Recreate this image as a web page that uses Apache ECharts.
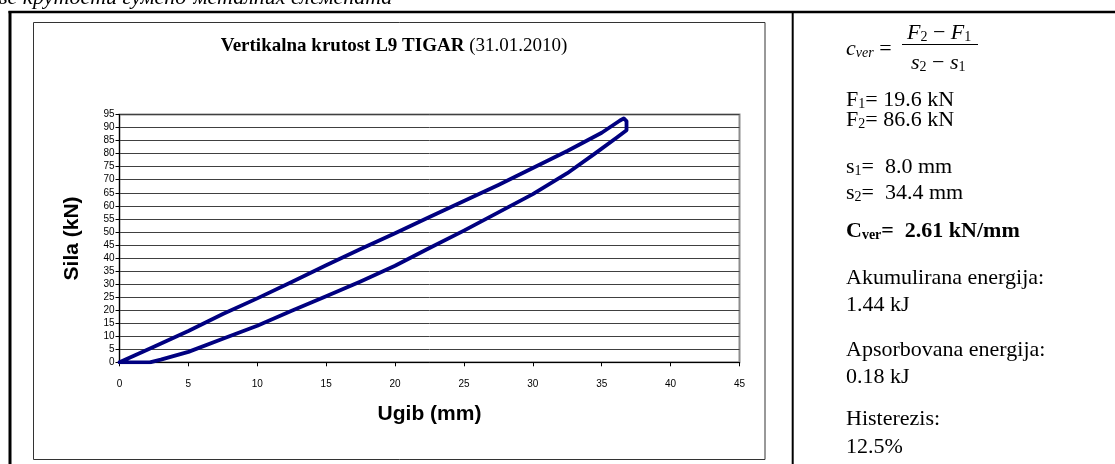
<!DOCTYPE html>
<html>
<head>
<meta charset="utf-8">
<script src="https://cdn.jsdelivr.net/npm/echarts@6/dist/echarts.min.js"></script>
<style>
  html, body { margin: 0; padding: 0; background: #fff; }
  #chart { width: 1115px; height: 464px; }
</style>
</head>
<body>
<div id="chart"></div>
<script>
// loading branch (upper curve), deflection in mm / force in kN
const loadX = [0, 2.5, 5, 7.5, 10, 12.5, 15, 17.5, 20, 22.5, 25, 27.5, 30, 32.5, 35, 36.3, 36.6];
const loadF = [0, 6, 12, 18.5, 24.5, 30.8, 37.2, 43.4, 49.5, 55.7, 61.8, 68, 74.5, 81, 88, 92.6, 93.5];
// unloading branch (lower curve)
const unloadX = [36.8, 36.8, 36.1, 34.5, 32.5, 30, 27.5, 25, 22.5, 20, 17.5, 15, 12.5, 10, 7.5, 5, 3, 2.2, 0];
const unloadF = [92.5, 89, 86.2, 80, 72.5, 64.5, 57.5, 50.5, 43.8, 37, 31, 25.3, 19.8, 14, 9, 4, 1, 0, 0];

const yTicks = { min: 0, max: 95, step: 5 };
const xTicks = { min: 0, max: 45, step: 5 };

const chartTitle = 'Vertikalna krutost L9 TIGAR';
const chartDate = '(31.01.2010)';
const heading = 'ве крутости гумено-металних елемената';
const F1 = '19.6 kN', F2 = '86.6 kN', s1 = '8.0 mm', s2 = '34.4 mm', cVer = '2.61 kN/mm';
const energyAcc = '1.44 kJ', energyAbs = '0.18 kJ', hyst = '12.5%';

const loop = loadX.map((x, i) => [x, loadF[i]])
  .concat(unloadX.map((x, i) => [x, unloadF[i]]));

const SERIF = '"Liberation Serif", "Times New Roman", serif';
const SANS = '"Liberation Sans", Arial, sans-serif';

const rich = {
  n: { fontFamily: SERIF, fontSize: 22, lineHeight: 22, color: '#000' },
  i: { fontFamily: SERIF, fontSize: 22, lineHeight: 22, fontStyle: 'italic', color: '#000' },
  b: { fontFamily: SERIF, fontSize: 22, lineHeight: 22, fontWeight: 'bold', color: '#000' },
  sub: { fontFamily: SERIF, fontSize: 14, lineHeight: 12, verticalAlign: 'bottom', color: '#000' },
  isub: { fontFamily: SERIF, fontSize: 14, lineHeight: 12, fontStyle: 'italic', verticalAlign: 'bottom', color: '#000' },
  bsub: { fontFamily: SERIF, fontSize: 14, lineHeight: 12, fontWeight: 'bold', verticalAlign: 'bottom', color: '#000' }
};

function txt(x, y, text, align) {
  return {
    type: 'text', x: x, y: y, silent: true,
    style: {
      text: text, rich: rich,
      align: align || 'left', textAlign: align || 'left',
      verticalAlign: 'middle', textVerticalAlign: 'middle',
      fill: '#000'
    }
  };
}

function line(x1, y1, x2, y2, w, color) {
  return {
    type: 'line', silent: true,
    shape: { x1: x1, y1: y1, x2: x2, y2: y2 },
    style: { stroke: color || '#000', lineWidth: w }
  };
}

const panelX = 846;
const panel = [
  txt(panelX, 49, '{i|c}{isub|ver}{n| =}'),
  txt(907, 33, '{i|F}{sub|2}{n| − }{i|F}{sub|1}'),
  line(902, 44.5, 978, 44.5, 1.2),
  txt(911, 63, '{i|s}{sub|2}{n| − }{i|s}{sub|1}'),
  txt(panelX, 100, '{n|F}{sub|1}{n|= ' + F1 + '}'),
  txt(panelX, 120, '{n|F}{sub|2}{n|= ' + F2 + '}'),
  txt(panelX, 167, '{n|s}{sub|1}{n|=  ' + s1 + '}'),
  txt(panelX, 193, '{n|s}{sub|2}{n|=  ' + s2 + '}'),
  txt(panelX, 231, '{b|C}{bsub|ver}{b|=  ' + cVer + '}'),
  txt(panelX, 278, '{n|Akumulirana energija:}'),
  txt(panelX, 305, '{n|' + energyAcc + '}'),
  txt(panelX, 350, '{n|Apsorbovana energija:}'),
  txt(panelX, 377, '{n|' + energyAbs + '}'),
  txt(panelX, 419, '{n|Histerezis:}'),
  txt(panelX, 447, '{n|' + hyst + '}')
];

const chart = echarts.init(document.getElementById('chart'));

chart.setOption({
  animation: false,
  backgroundColor: '#fff',
  grid: {
    left: 119.5, right: 375.5, top: 114.5, bottom: 101.7,
    show: true, borderColor: '#8c8c8c', borderWidth: 2, backgroundColor: 'transparent'
  },
  xAxis: {
    type: 'value', min: xTicks.min, max: xTicks.max, interval: xTicks.step,
    name: 'Ugib (mm)', nameLocation: 'middle', nameGap: 41,
    nameTextStyle: { fontFamily: SANS, fontWeight: 'bold', fontSize: 21, color: '#000' },
    axisLine: { show: true, lineStyle: { color: '#000', width: 1 } },
    axisTick: { show: true, length: 4, lineStyle: { color: '#000' } },
    axisLabel: { margin: 17, fontFamily: SANS, fontSize: 10, color: '#000' },
    splitLine: { show: false }
  },
  yAxis: {
    type: 'value', min: yTicks.min, max: yTicks.max, interval: yTicks.step,
    name: 'Sila (kN)', nameLocation: 'middle', nameGap: 37,
    nameTextStyle: { fontFamily: SANS, fontWeight: 'bold', fontSize: 21, color: '#000' },
    axisLine: { show: true, lineStyle: { color: '#000', width: 1 } },
    axisTick: { show: true, length: 4, lineStyle: { color: '#000' } },
    axisLabel: { margin: 5, fontFamily: SANS, fontSize: 10, color: '#000' },
    splitLine: { show: true, lineStyle: { color: '#404040', width: 1 } }
  },
  series: [{
    type: 'line',
    data: loop,
    showSymbol: false,
    symbol: 'none',
    smooth: false,
    lineStyle: { color: '#000080', width: 3.8, join: 'round', cap: 'round' },
    z: 5
  }],
  graphic: [
    // document table borders
    line(8.5, 12, 1115, 12, 2.5),
    line(10, 11, 10, 464, 3),
    line(792.7, 11, 792.7, 464, 2),
    // chart frame
    {
      type: 'rect', silent: true,
      shape: { x: 33.5, y: 22.5, width: 731.5, height: 437 },
      style: { fill: 'none', stroke: '#333', lineWidth: 1 }
    },
    {
      type: 'text', x: -2, y: -2, silent: true,
      style: {
        text: heading, font: 'italic 22px ' + SERIF, fill: '#000',
        align: 'left', textAlign: 'left', verticalAlign: 'middle', textVerticalAlign: 'middle'
      }
    },
    {
      type: 'text', x: 394, y: 46, silent: true,
      style: {
        text: '{tb|' + chartTitle + '}{tn| ' + chartDate + '}',
        align: 'center', textAlign: 'center', verticalAlign: 'middle', textVerticalAlign: 'middle',
        rich: {
          tb: { fontFamily: SERIF, fontSize: 19, fontWeight: 'bold', color: '#000' },
          tn: { fontFamily: SERIF, fontSize: 19, color: '#000' }
        }
      }
    }
  ].concat(panel)
});
</script>
</body>
</html>
